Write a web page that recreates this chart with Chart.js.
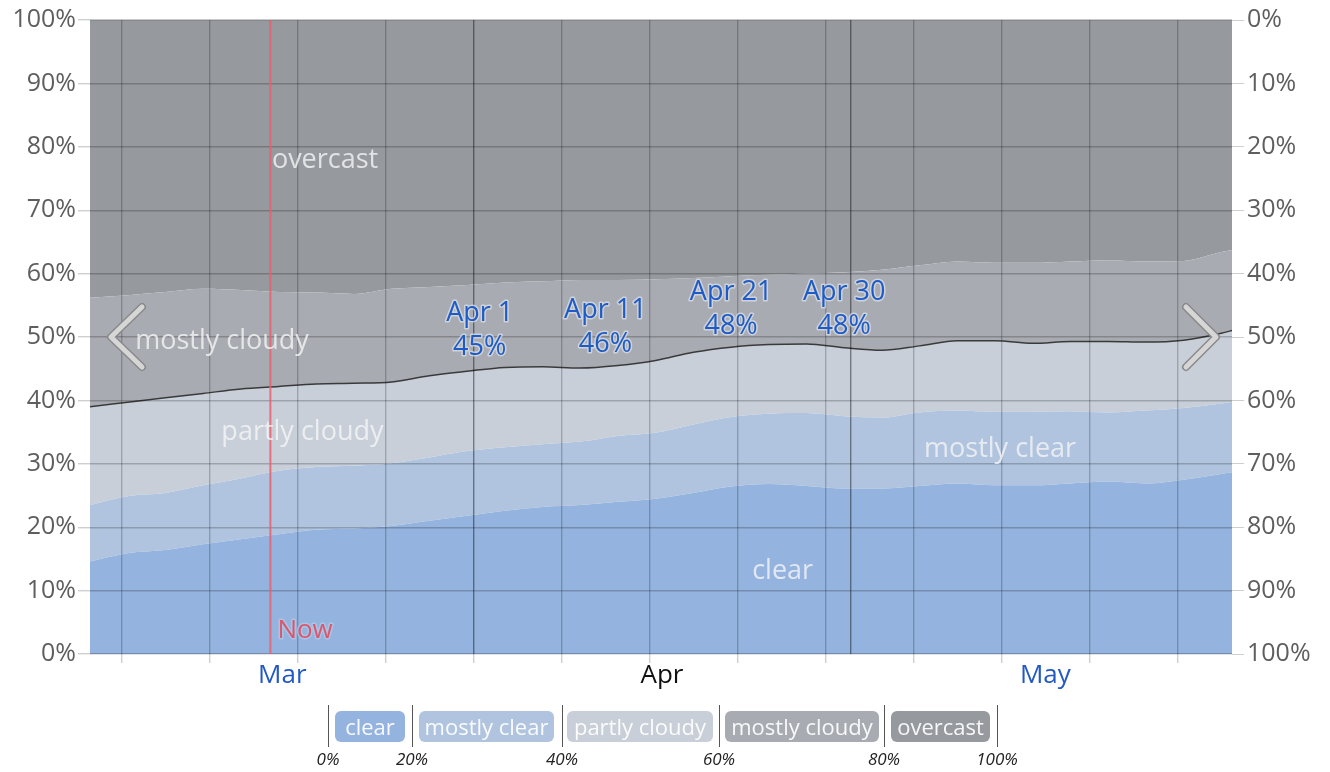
<!DOCTYPE html>
<html lang="en">
<head>
<meta charset="UTF-8">
<title>Cloud cover categories</title>
<script src="https://cdn.jsdelivr.net/npm/chart.js"></script>
<style>
  body { margin: 0; background: #fff; font-family: 'Open Sans', sans-serif; }
  #wrap { position: relative; width: 1330px; height: 772px; overflow: hidden; }
  #legend { position: absolute; left: 0; top: 0; width: 1330px; height: 772px; pointer-events: none; }
  .sep { position: absolute; top: 705px; width: 0; height: 42px; border-left: 1.5px solid #555; }
  .box { position: absolute; top: 711px; height: 31px; line-height: 30px; border-radius: 6px;
         color: rgba(255,255,255,0.92); font-size: 22px; text-align: center; white-space: nowrap; }
  .pct { position: absolute; top: 747px; width: 60px; margin-left: -30px; text-align: center;
         font-style: italic; font-size: 17px; color: #222; }
</style>
</head>
<body>
<div id="wrap">
  <canvas id="cloudChart" width="1330" height="772"></canvas>
  <div id="legend"></div>
</div>
<script>
// day 0 = Mar 1
const days = [0, 3, 6, 9, 12, 15, 18, 21, 24, 27, 30, 33, 36, 39, 42, 45, 48, 51, 54, 57, 60, 63, 66, 69, 72, 75, 78, 81, 84, 87, 90, 91];
// cumulative percentages (clear, then up to mostly clear, ...)
const clearUpTo        = [14.6, 15.9, 16.4, 17.3, 18.1, 18.9, 19.6, 19.8, 20.2, 21.0, 21.8, 22.6, 23.2, 23.5, 24.0, 24.5, 25.4, 26.4, 26.8, 26.5, 26.1, 26.1, 26.5, 26.9, 26.6, 26.6, 26.9, 27.2, 26.9, 27.5, 28.4, 28.7];
const mostlyClearUpTo  = [23.5, 24.9, 25.4, 26.6, 27.7, 28.9, 29.5, 29.7, 30.1, 31.0, 32.0, 32.6, 33.1, 33.5, 34.4, 34.9, 36.2, 37.4, 37.9, 38.0, 37.5, 37.3, 38.1, 38.4, 38.2, 38.2, 38.3, 38.1, 38.4, 38.8, 39.5, 39.8];
const partlyCloudyUpTo = [39.0, 39.7, 40.4, 41.1, 41.8, 42.2, 42.6, 42.7, 42.9, 43.9, 44.6, 45.2, 45.3, 45.1, 45.5, 46.3, 47.6, 48.4, 48.8, 48.9, 48.3, 47.9, 48.6, 49.4, 49.4, 49.0, 49.3, 49.3, 49.2, 49.5, 50.6, 51.1];
const mostlyCloudyUpTo = [56.2, 56.6, 57.1, 57.6, 57.4, 57.1, 57.0, 56.8, 57.6, 57.9, 58.2, 58.6, 58.8, 59.0, 59.0, 59.1, 59.3, 59.6, 59.8, 60.0, 60.2, 60.6, 61.3, 61.9, 61.7, 61.7, 61.9, 62.1, 61.9, 62.0, 63.4, 63.8];
const overcastUpTo     = [100, 100, 100, 100, 100, 100, 100, 100, 100, 100, 100, 100, 100, 100, 100, 100, 100, 100, 100, 100, 100, 100, 100, 100, 100, 100, 100, 100, 100, 100, 100, 100];

const categories = ['clear', 'mostly clear', 'partly cloudy', 'mostly cloudy', 'overcast'];
const catColors = ['#94b3de', '#b0c4df', '#c8cfd9', '#a8abb1', '#96999e'];

const markerLabels = ['Apr 1', 'Apr 11', 'Apr 21', 'Apr 30'];
const markerDays = [31, 41, 51, 60];
const markerValues = [45.0, 45.6, 48.4, 48.3];

const monthNames = ['Mar', 'Apr', 'May'];
const monthCenters = [15.3, 45.5, 76];
const monthColors = ['#2259c2', '#111111', '#2259c2'];
const monthLines = [30.5, 60.5];
const weekLines = [2.5, 9.5, 16.5, 23.5, 37.5, 44.5, 51.5, 58.5, 65.5, 72.5, 79.5, 86.5];
const nowDay = 14.35;

const yTicks = [0, 10, 20, 30, 40, 50, 60, 70, 80, 90, 100];
const legendEdges = ['0%', '20%', '40%', '60%', '80%', '100%'];

// in-chart category names: [text, day, percent]
const areaLabels = [
  ['overcast', 18.7, 78.2],
  ['mostly cloudy', 10.5, 49.6],
  ['partly cloudy', 16.9, 35.3],
  ['mostly clear', 72.4, 32.6],
  ['clear', 55.1, 13.3]
];

const FONT = "'Open Sans', sans-serif";

function pts(arr) { return days.map((d, i) => ({ x: d, y: arr[i] })); }

const layers = [clearUpTo, mostlyClearUpTo, partlyCloudyUpTo, mostlyCloudyUpTo, overcastUpTo];
const datasets = layers.map((arr, i) => ({
  label: categories[i],
  data: pts(arr),
  backgroundColor: catColors[i],
  borderColor: i === 2 ? '#3a3a3a' : 'rgba(0,0,0,0)',
  borderWidth: i === 2 ? 1.5 : 0,
  fill: i === 0 ? 'origin' : '-1',
  pointRadius: 0,
  cubicInterpolationMode: 'monotone'
}));
datasets.push({
  label: 'markers',
  data: markerDays.map((d, i) => ({ x: d, y: markerValues[i] })),
  showLine: false,
  fill: false,
  pointRadius: 4,
  pointBackgroundColor: '#000',
  pointBorderWidth: 0
});

const xTickValues = [...weekLines, ...monthLines, ...monthCenters].sort((a, b) => a - b);

function xGridColor(ctx) {
  const v = ctx.tick && ctx.tick.value;
  if (monthCenters.includes(v)) return 'rgba(0,0,0,0)';
  if (monthLines.includes(v)) return 'rgba(0,0,0,0.42)';
  return 'rgba(0,0,0,0.21)';
}
function xTickColor(ctx) {
  const v = ctx.tick && ctx.tick.value;
  if (monthCenters.includes(v) || v === 60.5) return 'rgba(0,0,0,0)';
  return '#cfcfcf';
}

function haloText(c, t, x, y, fill, halo) {
  c.lineJoin = 'round';
  c.lineWidth = 3;
  c.strokeStyle = halo;
  c.strokeText(t, x, y);
  c.fillStyle = fill;
  c.fillText(t, x, y);
}

const overlay = {
  id: 'overlay',
  afterDraw(chart) {
    const c = chart.ctx, a = chart.chartArea;
    const x = chart.scales.x, y = chart.scales.y;
    c.save();

    // now line
    const nx = x.getPixelForValue(nowDay);
    c.strokeStyle = 'rgba(232,96,110,0.85)';
    c.lineWidth = 2;
    c.beginPath(); c.moveTo(nx, a.top); c.lineTo(nx, a.bottom); c.stroke();

    // category names inside the areas
    c.font = '27px ' + FONT;
    c.textAlign = 'center';
    c.textBaseline = 'middle';
    c.fillStyle = 'rgba(245,245,245,0.8)';
    areaLabels.forEach(l => c.fillText(l[0], x.getPixelForValue(l[1]), y.getPixelForValue(l[2]) + 2));

    // now label
    c.font = '26px ' + FONT;
    c.textAlign = 'left';
    haloText(c, 'Now', nx + 7, a.bottom - 23, '#d9596c', 'rgba(180,202,235,0.7)');

    // marker labels
    c.font = '27px ' + FONT;
    c.textAlign = 'center';
    markerDays.forEach((d, i) => {
      const px = x.getPixelForValue(d), py = y.getPixelForValue(markerValues[i]);
      haloText(c, markerLabels[i], px, py - 55, '#1f5bc6', 'rgba(222,226,234,0.7)');
      haloText(c, Math.round(markerValues[i]) + '%', px, py - 21, '#1f5bc6', 'rgba(222,226,234,0.7)');
    });

    // scroll chevrons
    const cy = y.getPixelForValue(50);
    const chev = (p) => {
      [['#8a8a8a', 8], ['#d6d6d6', 5]].forEach(([col, w]) => {
        c.strokeStyle = col; c.lineWidth = w; c.lineCap = 'round'; c.lineJoin = 'round';
        c.beginPath(); c.moveTo(p[0][0], p[0][1]); c.lineTo(p[1][0], p[1][1]); c.lineTo(p[2][0], p[2][1]); c.stroke();
      });
    };
    chev([[a.left + 52, cy - 30], [a.left + 21, cy], [a.left + 52, cy + 30]]);
    chev([[a.right - 46, cy - 30], [a.right - 16, cy], [a.right - 46, cy + 30]]);
    c.restore();
  }
};

new Chart(document.getElementById('cloudChart').getContext('2d'), {
  type: 'line',
  data: { datasets: datasets },
  options: {
    responsive: false,
    animation: false,
    layout: { padding: { top: 20, bottom: 0, left: 0, right: 0 } },
    plugins: { legend: { display: false }, tooltip: { enabled: false } },
    scales: {
      x: {
        type: 'linear',
        min: 0,
        max: 90.85,
        border: { display: false },
        afterBuildTicks: axis => { axis.ticks = xTickValues.map(v => ({ value: v })); },
        afterFit: axis => { axis.height = 118; },
        grid: { z: 1, color: xGridColor, tickColor: xTickColor, tickLength: 9, lineWidth: 1.4 },
        ticks: {
          autoSkip: false,
          maxRotation: 0,
          padding: -3,
          font: { family: FONT, size: 26 },
          color: ctx => {
            const k = monthCenters.indexOf(ctx.tick.value);
            return k >= 0 ? monthColors[k] : '#000';
          },
          callback: v => {
            const k = monthCenters.indexOf(v);
            return k >= 0 ? monthNames[k] : '';
          }
        }
      },
      y: {
        min: 0,
        max: 100,
        border: { display: false },
        afterBuildTicks: axis => { axis.ticks = yTicks.map(v => ({ value: v })); },
        afterFit: axis => { axis.width = 90; },
        grid: { z: 1, color: 'rgba(0,0,0,0.21)', tickColor: '#cfcfcf', tickLength: 12, lineWidth: 1.4 },
        ticks: { padding: 2, color: '#5e5e5e', font: { family: FONT, size: 25 }, callback: v => v + '%' }
      },
      y2: {
        position: 'right',
        min: 0,
        max: 100,
        reverse: true,
        border: { display: false },
        afterBuildTicks: axis => { axis.ticks = yTicks.map(v => ({ value: v })); },
        afterFit: axis => { axis.width = 98; },
        grid: { drawOnChartArea: false, tickColor: '#cfcfcf', tickLength: 12 },
        ticks: { padding: 3, color: '#5e5e5e', font: { family: FONT, size: 25 }, callback: v => v + '%' }
      }
    }
  },
  plugins: [overlay]
});

// legend strip under the chart
const sepX = [328, 412, 562, 719, 884, 997];
const boxLeft = [335, 419, 567, 725, 891];
const boxRight = [405, 554, 713, 879, 990];
const leg = document.getElementById('legend');
sepX.forEach((sx, i) => {
  const s = document.createElement('div');
  s.className = 'sep';
  s.style.left = sx + 'px';
  leg.appendChild(s);
  const p = document.createElement('div');
  p.className = 'pct';
  p.style.left = sx + 'px';
  p.textContent = legendEdges[i];
  leg.appendChild(p);
});
categories.forEach((name, i) => {
  const b = document.createElement('div');
  b.className = 'box';
  b.style.left = boxLeft[i] + 'px';
  b.style.width = (boxRight[i] - boxLeft[i]) + 'px';
  b.style.background = catColors[i];
  b.textContent = name;
  leg.appendChild(b);
});
</script>
</body>
</html>
